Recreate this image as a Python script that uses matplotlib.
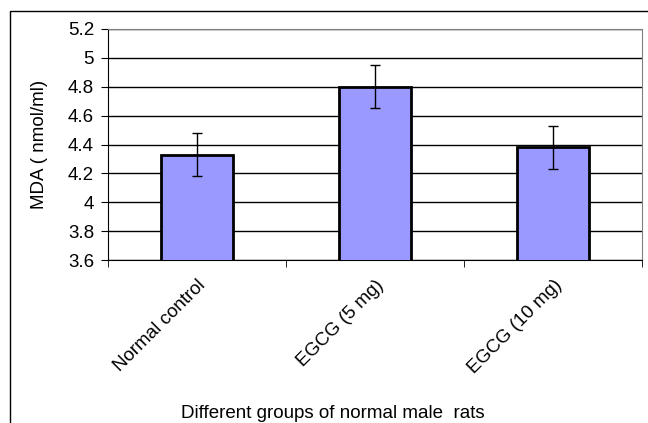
import matplotlib
matplotlib.use("Agg")
import matplotlib.pyplot as plt
from matplotlib.patches import Rectangle
import numpy as np

plt.rcParams['font.family'] = ['Liberation Sans', 'DejaVu Sans']

# data
groups = ["Normal control", "EGCG (5 mg)", "EGCG (10 mg)"]
mda = [4.33, 4.80, 4.38]
mda_err = [0.15, 0.15, 0.15]

fig = plt.figure(figsize=(6.48, 4.23), dpi=100)
W, H = 648, 423

# outer chart border (cut off at right and bottom like the original)
fig.patches.append(Rectangle((10 / W, -0.1), 2.0, 1 - 11 / H + 0.1,
                             transform=fig.transFigure, fill=False,
                             edgecolor='black', linewidth=1.0))

ax = fig.add_axes([108 / W, 1 - 260 / H, (642 - 108) / W, (260 - 29) / H])

x = np.arange(len(groups))
ax.bar(x, mda, width=0.405, color='#9999FF', edgecolor='black',
       linewidth=2, zorder=3)
ax.errorbar(x, mda, yerr=mda_err, fmt='none', ecolor='black',
            elinewidth=1, capsize=3.8, capthick=1, zorder=4)

ax.set_xlim(-0.5, 2.5)
ax.set_ylim(3.6, 5.2)
ax.set_yticks(np.arange(3.6, 5.21, 0.2))
ax.set_yticklabels(['3.6', '3.8', '4', '4.2', '4.4', '4.6', '4.8', '5', '5.2'],
                   fontsize=13.5)
ax.yaxis.grid(True, color='black', linewidth=1, zorder=0)
ax.set_axisbelow(True)

ax.set_xticks(x)
ax.set_xticklabels(groups, rotation=45, ha='right', va='top',
                   rotation_mode='anchor', fontsize=13.5)
ax.tick_params(axis='x', which='major', length=0, pad=12)
ax.set_xticks([-0.5, 0.5, 1.5, 2.5], minor=True)
ax.tick_params(axis='x', which='minor', length=5, direction='out')
ax.tick_params(axis='y', length=5, direction='out', pad=5)

for s in ['top', 'right']:
    ax.spines[s].set_color('#808080')
for s in ['left', 'bottom']:
    ax.spines[s].set_color('black')

ax.set_ylabel('MDA ( nmol/ml)', fontsize=13.5, labelpad=14)
fig.text(333 / W, 1 / H, 'Different groups of normal male  rats',
         ha='center', va='bottom', fontsize=13.5)

fig.savefig('out.png', dpi=100)
